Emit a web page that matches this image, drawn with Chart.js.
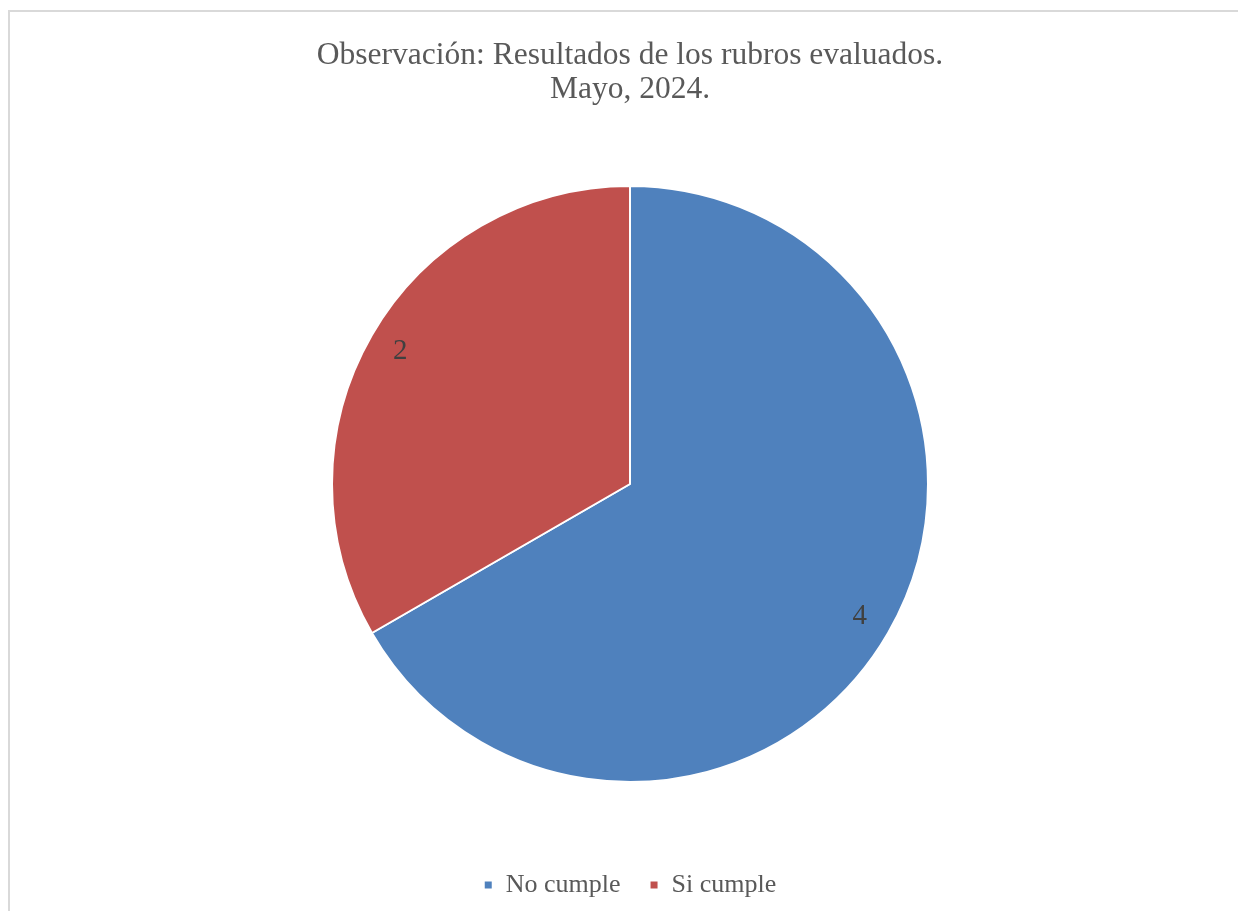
<!DOCTYPE html>
<html lang="es">
<head>
<meta charset="utf-8">
<title>Observación: Resultados de los rubros evaluados</title>
<script src="https://cdn.jsdelivr.net/npm/chart.js@4"></script>
<style>
    html, body { margin: 0; padding: 0; background: #fff; overflow: hidden; }
    #marco {
        position: absolute; left: 8px; top: 10px;
        width: 1300px; height: 1000px;
        border: 2px solid #d9d9d9; background: #fff;
    }
    #lienzo { position: absolute; left: 0; top: 0; width: 1238px; height: 911px; }
</style>
</head>
<body>
<div id="marco"></div>
<div id="lienzo"><canvas id="grafico"></canvas></div>
<script>
// Datos del gráfico
const categorias = ['No cumple', 'Si cumple'];
const valores = [4, 2];
const colores = ['#4F81BD', '#C0504D'];
const tituloLineas = ['Observación: Resultados de los rubros evaluados.', 'Mayo, 2024.'];

const fuente = "'Liberation Serif', 'Times New Roman', serif";

// Etiquetas de datos dentro de cada porción
const etiquetasPlugin = {
    id: 'etiquetas',
    afterDatasetsDraw(chart) {
        const ctx = chart.ctx;
        const meta = chart.getDatasetMeta(0);
        ctx.save();
        ctx.font = '29px ' + fuente;
        ctx.fillStyle = '#404040';
        ctx.textAlign = 'center';
        ctx.textBaseline = 'middle';
        meta.data.forEach((arc, i) => {
            const p = arc.getProps(['x', 'y', 'startAngle', 'endAngle', 'outerRadius'], true);
            const ang = (p.startAngle + p.endAngle) / 2;
            const r = p.outerRadius * 0.89;
            ctx.fillText(String(valores[i]), p.x + Math.cos(ang) * r, p.y + Math.sin(ang) * r);
        });
        ctx.restore();
    }
};

const ctx = document.getElementById('grafico').getContext('2d');
window.myChart = new Chart(ctx, {
    type: 'pie',
    data: {
        labels: categorias,
        datasets: [{
            data: valores,
            backgroundColor: colores,
            borderColor: '#ffffff',
            borderWidth: 2,
            radius: 298
        }]
    },
    options: {
        responsive: true,
        maintainAspectRatio: false,
        animation: false,
        layout: { padding: { left: 22, right: 0, top: 0, bottom: 3 } },
        plugins: {
            title: {
                display: true,
                text: tituloLineas,
                color: '#595959',
                font: { family: fuente, size: 31.5, weight: 'normal', lineHeight: '34px' },
                padding: { top: 39, bottom: 18 }
            },
            legend: {
                position: 'bottom',
                labels: {
                    color: '#595959',
                    font: { family: fuente, size: 26 },
                    boxWidth: 9,
                    boxHeight: 9,
                    padding: 29
                }
            },
            tooltip: { enabled: false }
        }
    },
    plugins: [etiquetasPlugin]
});
</script>
</body>
</html>
